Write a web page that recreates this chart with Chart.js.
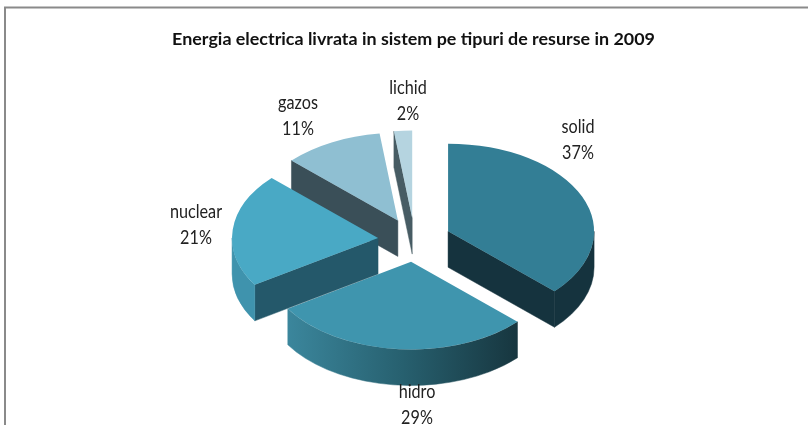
<!DOCTYPE html>
<html>
<head>
<meta charset="utf-8">
<style>
html,body{margin:0;padding:0;background:#fff;overflow:hidden}
canvas{display:block}
</style>
<script src="https://cdn.jsdelivr.net/npm/chart.js@4"></script>
</head>
<body>
<canvas id="c" width="808" height="425"></canvas>
<script>
const titleText = 'Energia electrica livrata in sistem pe tipuri de resurse in 2009';
const categories = ['solid', 'hidro', 'nuclear', 'gazos', 'lichid'];
const shares = [37, 29, 21, 11, 2];
const topColors = ['#337e95', '#3f95ae', '#49a9c5', '#8fbfd2', '#b5d4e0'];
const faceColors = ['#15333e', '#1a3f4c', '#24586a', '#3a4f58', '#475c64'];
const rimColors = ['#15333e', null, '#3f93ad', '#3a4f58', '#475c64'];
const drawOrder = [4, 3, 1, 2, 0];
const labelAnchors = [[578, 127], [417, 392], [196, 212], [298, 103], [408, 88]];
const geometry = {cx: 414.5, cy: 240, radius: 146, squash: 0.6, depth: 36, explode: 36.6};

const framePlugin = {
  id: 'frame',
  beforeDraw(chart) {
    const c = chart.ctx;
    c.save();
    c.strokeStyle = '#8a8a8a';
    c.lineWidth = 2;
    c.beginPath();
    c.moveTo(5, 425); c.lineTo(5, 7.5); c.lineTo(808, 7.5);
    c.stroke();
    c.restore();
  }
};

function paint(c, fill) {
  c.fillStyle = fill;
  c.strokeStyle = fill;
  c.lineWidth = 0.6;
  c.fill();
  c.stroke();
}
function wall(c, arc, from, to, fill) {
  c.beginPath();
  c.arc(arc.x, arc.y, arc.outerRadius, from, to);
  c.arc(arc.x, arc.y + geometry.depth / geometry.squash, arc.outerRadius, to, from, true);
  c.closePath();
  paint(c, fill);
}
function face(c, arc, a, fill) {
  const r = arc.outerRadius, d = geometry.depth / geometry.squash;
  const ex = arc.x + Math.cos(a) * r, ey = arc.y + Math.sin(a) * r;
  c.beginPath();
  c.moveTo(arc.x, arc.y); c.lineTo(ex, ey); c.lineTo(ex, ey + d); c.lineTo(arc.x, arc.y + d);
  c.closePath();
  paint(c, fill);
}

const pie3dPlugin = {
  id: 'pie3d',
  beforeDatasetsDraw(chart) {
    const c = chart.ctx, g = geometry;
    const arcs = chart.getDatasetMeta(0).data;
    drawOrder.forEach(i => {
      const arc = arcs[i];
      const mid = (arc.startAngle + arc.endAngle) / 2;
      c.save();
      c.translate(g.cx, g.cy);
      c.scale(1, g.squash);
      c.translate(-arc.x + Math.cos(mid) * g.explode, -arc.y + Math.sin(mid) * g.explode);
      if (Math.cos(arc.startAngle) < -0.001) face(c, arc, arc.startAngle, faceColors[i]);
      if (Math.cos(arc.endAngle) > 0.001) face(c, arc, arc.endAngle, faceColors[i]);
      const from = Math.max(arc.startAngle, 0), to = Math.min(arc.endAngle, Math.PI);
      if (to > from) {
        let fill = rimColors[i];
        if (!fill) {
          const r = arc.outerRadius;
          const gr = c.createLinearGradient(arc.x + Math.cos(to) * r, 0, arc.x + Math.cos(from) * r, 0);
          gr.addColorStop(0, '#3b869c');
          gr.addColorStop(0.5, '#27606f');
          gr.addColorStop(1, '#17363f');
          fill = gr;
        }
        wall(c, arc, from, to, fill);
      }
      arc.draw(c);
      c.restore();
    });
    return false;
  }
};

const labelPlugin = {
  id: 'sliceLabels',
  afterDraw(chart) {
    const c = chart.ctx;
    c.save();
    c.fillStyle = '#222';
    c.textAlign = 'center';
    c.textBaseline = 'middle';
    c.font = '18px Lato';
    categories.forEach((name, i) => {
      const [x, y] = labelAnchors[i];
      c.save();
      c.translate(x, y);
      c.scale(0.9, 1.08);
      c.fillText(name, 0, 0);
      c.fillText(shares[i] + '%', 0, 24);
      c.restore();
    });
    c.restore();
  }
};

new Chart(document.getElementById('c'), {
  type: 'pie',
  data: {
    labels: categories,
    datasets: [{data: shares, backgroundColor: topColors, borderWidth: 0, hoverOffset: 0}]
  },
  plugins: [framePlugin, pie3dPlugin, labelPlugin],
  options: {
    responsive: false,
    animation: false,
    radius: geometry.radius,
    layout: {padding: {left: 19}},
    events: [],
    plugins: {
      legend: {display: false},
      tooltip: {enabled: false},
      title: {
        display: true,
        text: titleText,
        color: '#111',
        font: {family: 'Lato', size: 17.9, weight: 'bold'},
        padding: {top: 28, bottom: 8}
      }
    }
  }
});
</script>
</body>
</html>
